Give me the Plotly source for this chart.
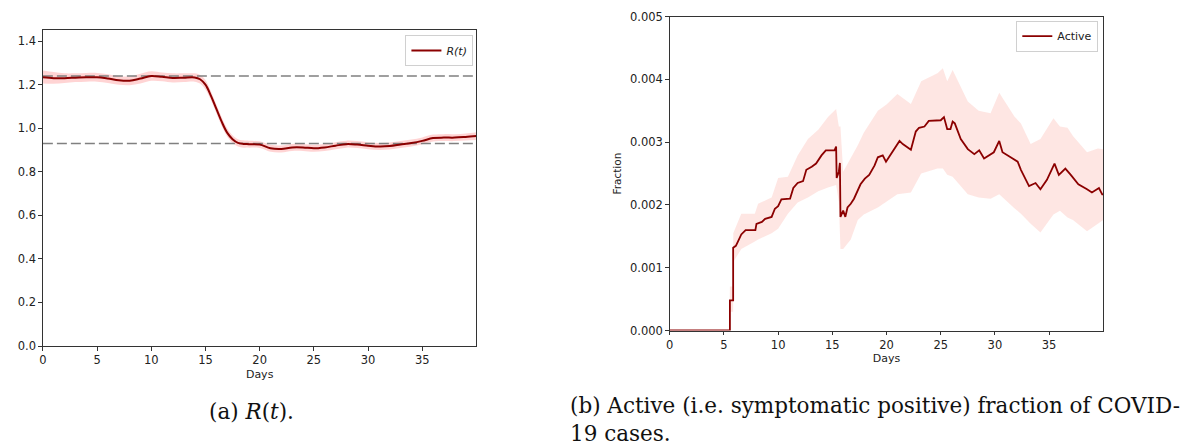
import plotly.graph_objects as go

W, H = 1189, 446

# ---------------- data: R(t) ----------------
r_days = [0, 1, 2, 3, 4, 5, 6, 7, 8, 9, 10, 11, 12, 13, 14, 14.5, 15, 15.5, 16, 16.5,
          17, 17.5, 18, 18.5, 19, 20, 21, 22, 23, 24, 25, 26, 27, 28, 29, 30, 31, 32,
          33, 34, 35, 36, 37, 38, 39, 40]
r_vals = [1.234, 1.230, 1.230, 1.232, 1.234, 1.234, 1.228, 1.220, 1.218, 1.228, 1.240,
          1.236, 1.231, 1.232, 1.233, 1.225, 1.200, 1.150, 1.090, 1.030, 0.980, 0.950,
          0.933, 0.928, 0.927, 0.925, 0.908, 0.905, 0.912, 0.912, 0.908, 0.912, 0.920,
          0.927, 0.925, 0.920, 0.916, 0.918, 0.925, 0.932, 0.942, 0.955, 0.957, 0.957,
          0.960, 0.964]
r_upper = [1.265, 1.258, 1.252, 1.252, 1.254, 1.254, 1.248, 1.240, 1.238, 1.250, 1.262,
           1.256, 1.252, 1.252, 1.252, 1.245, 1.222, 1.170, 1.110, 1.050, 1.000, 0.968,
           0.950, 0.945, 0.943, 0.940, 0.924, 0.921, 0.928, 0.928, 0.924, 0.928, 0.936,
           0.943, 0.941, 0.936, 0.932, 0.934, 0.941, 0.948, 0.958, 0.971, 0.973, 0.973,
           0.976, 0.982]
r_lower = [1.205, 1.204, 1.208, 1.212, 1.214, 1.214, 1.208, 1.200, 1.198, 1.206, 1.218,
           1.216, 1.210, 1.212, 1.214, 1.205, 1.178, 1.130, 1.070, 1.010, 0.962, 0.932,
           0.916, 0.911, 0.911, 0.909, 0.892, 0.889, 0.896, 0.896, 0.892, 0.896, 0.904,
           0.911, 0.909, 0.904, 0.900, 0.902, 0.909, 0.916, 0.926, 0.939, 0.941, 0.941,
           0.944, 0.946]
ref_days = [0, 40]
ref_high = [1.24, 1.24]
ref_low = [0.93, 0.93]

# ---------------- data: Active fraction (x 1e-3) ----------------
a_days = [0, 5.55, 5.55, 5.85, 5.85, 6.1, 6.3, 6.6, 7.0, 7.9, 8.0, 8.5, 8.8, 9.4, 9.7,
          10.0, 10.3, 11.1, 11.4, 11.8, 12.3, 12.6, 13.1, 13.5, 14.0, 14.4, 15.2, 15.35,
          15.4, 15.6, 15.7, 15.75, 16.0, 16.2, 16.4, 16.7, 17.0, 17.3, 17.6, 18.0, 18.4,
          18.9, 19.2, 19.65, 19.95, 20.4, 20.9, 21.2, 21.5, 21.8, 22.25, 22.7, 23.0, 23.5,
          23.9, 25.0, 25.3, 25.6, 25.9, 26.1, 26.3, 26.85, 27.5, 28.1, 28.55, 29.0, 29.6,
          29.9, 30.4, 30.7, 31.45, 32.1, 32.4, 33.15, 33.75, 34.2, 34.8, 35.5, 35.9, 36.5,
          37.0, 37.7, 38.5, 38.95, 39.6, 39.9, 40.0]
a_vals = [0, 0, 0.48, 0.48, 1.32, 1.35, 1.42, 1.53, 1.60, 1.60, 1.70, 1.73, 1.78, 1.81,
          1.94, 1.98, 2.09, 2.10, 2.27, 2.35, 2.38, 2.56, 2.61, 2.66, 2.79, 2.87, 2.87,
          2.93, 2.43, 2.53, 2.67, 1.81, 1.91, 1.81, 1.96, 2.02, 2.10, 2.22, 2.33, 2.42,
          2.48, 2.63, 2.76, 2.79, 2.69, 2.81, 2.94, 3.02, 2.97, 2.93, 2.88, 3.17, 3.23,
          3.25, 3.34, 3.35, 3.40, 3.21, 3.21, 3.33, 3.30, 3.05, 2.89, 2.81, 2.87, 2.74,
          2.81, 2.84, 3.02, 2.84, 2.76, 2.69, 2.56, 2.30, 2.35, 2.25, 2.40, 2.66, 2.48,
          2.58, 2.48, 2.33, 2.25, 2.20, 2.27, 2.17, 2.17]
band_days = [0, 5.5, 5.55, 5.85, 5.86, 6.6, 7.85, 8.15, 9.4, 10.0, 10.9, 11.8, 12.75,
             13.7, 14.6, 15.35, 15.6, 15.75, 16.0, 16.7, 17.35, 17.9, 19.2, 20.0, 21.0,
             22.25, 23.2, 24.7, 25.2, 25.6, 26.1, 27.5, 28.5, 29.6, 30.4, 31.8, 32.4,
             33.3, 34.2, 35.4, 36.0, 36.7, 37.2, 38.5, 39.5, 40.0]
band_upper = [0, 0, 0.70, 0.70, 1.55, 1.86, 1.86, 2.02, 2.12, 2.43, 2.45, 2.79, 3.05,
              3.20, 3.40, 3.53, 3.25, 3.25, 2.53, 2.74, 2.95, 3.15, 3.50, 3.60, 3.77,
              3.61, 3.97, 4.10, 4.18, 3.97, 4.15, 3.65, 3.50, 3.46, 3.79, 3.41, 3.30,
              2.97, 3.05, 3.38, 3.25, 3.23, 3.10, 2.84, 2.90, 2.89]
band_lower = [0, 0, 0.30, 0.30, 1.09, 1.30, 1.42, 1.45, 1.55, 1.62, 1.86, 2.04, 2.12,
              2.22, 2.28, 2.32, 2.05, 1.30, 1.30, 1.45, 1.76, 1.85, 1.96, 2.05, 2.17,
              2.20, 2.50, 2.58, 2.58, 2.48, 2.45, 2.17, 2.12, 2.10, 2.17, 1.95, 1.86,
              1.70, 1.56, 1.85, 1.91, 1.80, 1.76, 1.58, 1.70, 1.76]
scale = 1e-3

x_ticks = [0, 5, 10, 15, 20, 25, 30, 35]
r_yticks = [0.0, 0.2, 0.4, 0.6, 0.8, 1.0, 1.2, 1.4]
a_yticks = [0.000, 0.001, 0.002, 0.003, 0.004, 0.005]

DARK = "#8b0000"
TICKFONT = dict(family="DejaVu Sans", size=11.5, color="#222")
CAPFONT = dict(family="DejaVu Serif", size=21.5, color="#111")

fig = go.Figure()

# R(t) band + line
fig.add_trace(go.Scatter(x=r_days, y=r_upper, mode="lines", line=dict(width=0, shape="spline"),
                         showlegend=False, hoverinfo="skip", xaxis="x", yaxis="y"))
fig.add_trace(go.Scatter(x=r_days, y=r_lower, mode="lines", line=dict(width=0, shape="spline"),
                         fill="tonexty", fillcolor="rgba(255,0,0,0.17)",
                         showlegend=False, hoverinfo="skip", xaxis="x", yaxis="y"))
for ry in (ref_high, ref_low):
    fig.add_trace(go.Scatter(x=ref_days, y=ry, mode="lines",
                             line=dict(color="#808080", width=1.5, dash="10px,4px"),
                             showlegend=False, hoverinfo="skip", xaxis="x", yaxis="y"))
fig.add_trace(go.Scatter(x=r_days, y=r_vals, mode="lines", name="<i>R(t)</i>",
                         line=dict(color=DARK, width=2, shape="spline"),
                         xaxis="x", yaxis="y", legend="legend"))

# Active band + line
fig.add_trace(go.Scatter(x=band_days, y=[v * scale for v in band_upper], mode="lines",
                         line=dict(width=0), showlegend=False, hoverinfo="skip",
                         xaxis="x2", yaxis="y2"))
fig.add_trace(go.Scatter(x=band_days, y=[v * scale for v in band_lower], mode="lines",
                         line=dict(width=0), fill="tonexty",
                         fillcolor="rgba(250,128,114,0.2)", showlegend=False,
                         hoverinfo="skip", xaxis="x2", yaxis="y2"))
fig.add_trace(go.Scatter(x=a_days, y=[v * scale for v in a_vals], mode="lines", name="Active",
                         line=dict(color=DARK, width=1.8),
                         xaxis="x2", yaxis="y2", legend="legend2"))

axis_common = dict(showgrid=False, zeroline=False, showline=True, linecolor="#333",
                   linewidth=1, mirror=True, ticks="outside", ticklen=3.5, tickwidth=1,
                   tickcolor="#333", tickfont=TICKFONT)

fig.update_layout(
    width=W, height=H, margin=dict(l=0, r=0, t=0, b=0),
    paper_bgcolor="white", plot_bgcolor="white",
    font=dict(family="DejaVu Sans", size=11, color="#222"),
    xaxis=dict(domain=[39 / W, 474 / W], range=[0, 40], tickvals=x_ticks,
               title=dict(text="Days", standoff=3, font=dict(size=11)), anchor="y",
               **axis_common),
    yaxis=dict(domain=[(H - 350) / H, (H - 24) / H], range=[0, 1.45], tickvals=r_yticks,
               tickformat=".1f", anchor="x", **axis_common),
    xaxis2=dict(domain=[668 / W, 1103 / W], range=[0, 40], tickvals=x_ticks,
                title=dict(text="Days", standoff=3, font=dict(size=11)), anchor="y2",
                **axis_common),
    yaxis2=dict(domain=[(H - 334) / H, (H - 10) / H], range=[0, 0.005], tickvals=a_yticks,
                tickformat=".3f", anchor="x2",
                title=dict(text="Fraction", standoff=6, font=dict(size=10.5)), **axis_common),
    legend=dict(x=471 / W, y=1 - 29 / H, xanchor="right", yanchor="top",
                bgcolor="rgba(255,255,255,0.8)", bordercolor="#d0d0d0", borderwidth=1,
                font=dict(size=11, family="DejaVu Sans")),
    legend2=dict(x=1098 / W, y=1 - 14 / H, xanchor="right", yanchor="top",
                 bgcolor="rgba(255,255,255,0.8)", bordercolor="#d0d0d0", borderwidth=1,
                 font=dict(size=11, family="DejaVu Sans")),
    annotations=[
        dict(text="(a) <i>R</i>(<i>t</i>).", x=248 / W, y=1 - 418 / H, xref="paper",
             yref="paper", xanchor="center", yanchor="middle", showarrow=False,
             font=CAPFONT),
        dict(text="(b) Active (i.e. symptomatic positive) fraction of COVID-<br>19 cases.",
             x=566 / W, y=1 - 396 / H, xref="paper", yref="paper", xanchor="left",
             yanchor="top", align="left", showarrow=False, font=CAPFONT),
    ],
)

fig.write_html("out.html")
